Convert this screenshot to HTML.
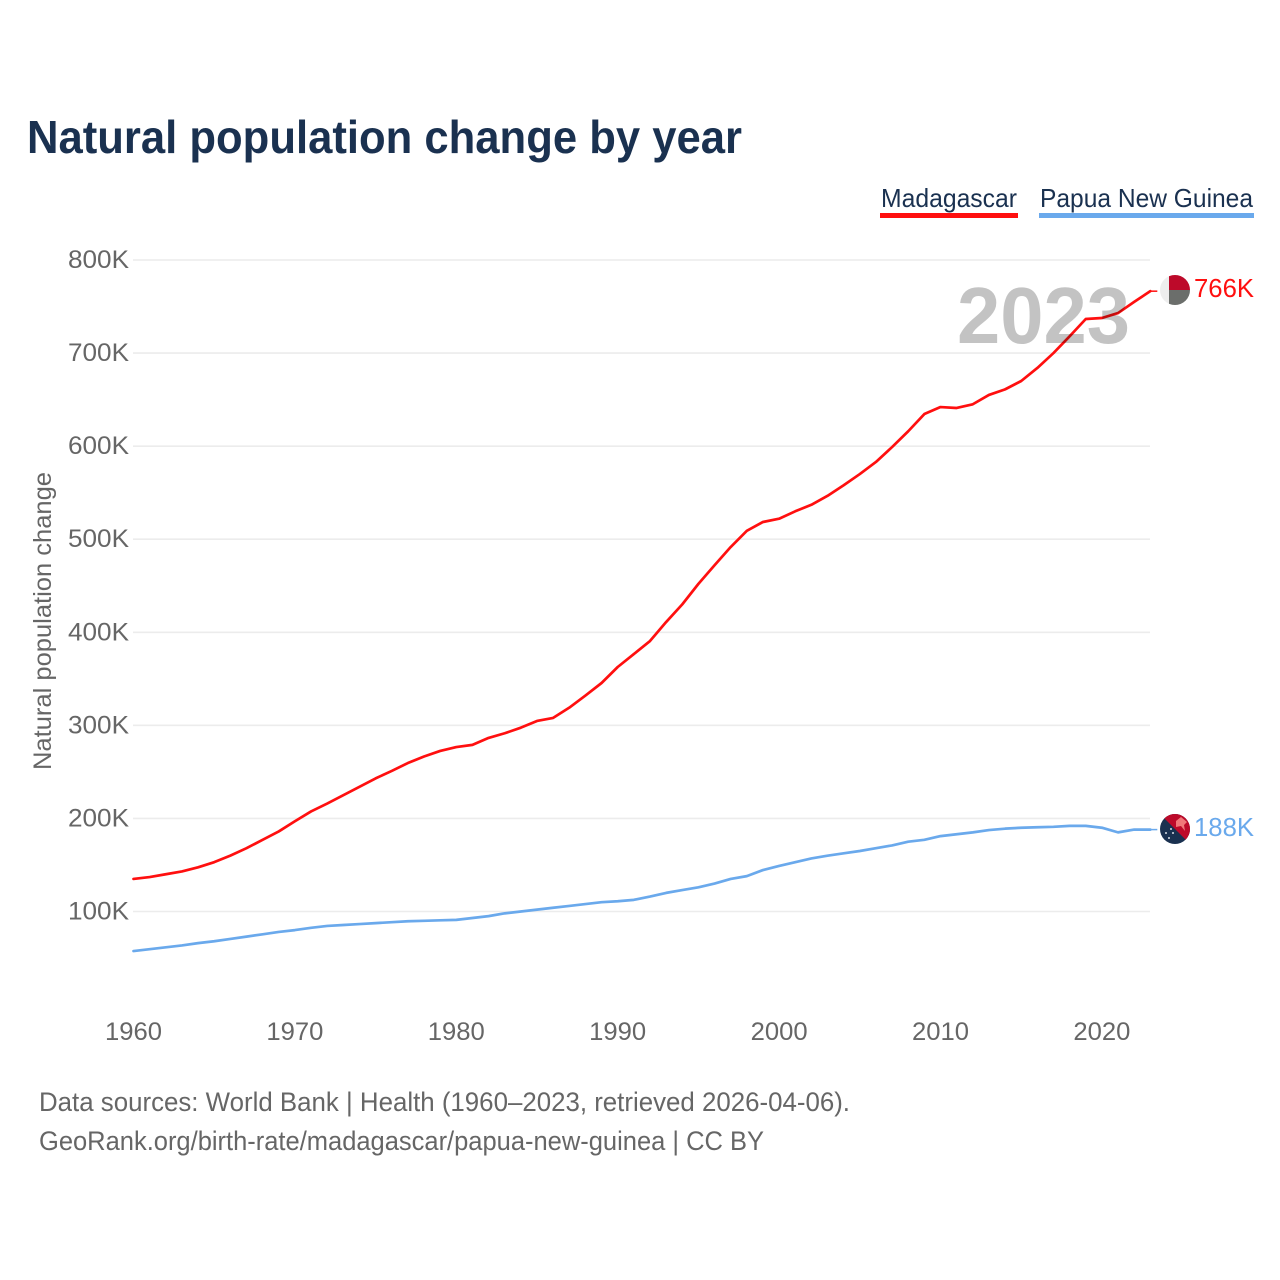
<!DOCTYPE html>
<html lang="en">
<head>
<meta charset="utf-8">
<title>Natural population change by year</title>
<style>
html,body{margin:0;padding:0;background:#fff;}
svg{display:block;font-family:"Liberation Sans",sans-serif;}
</style>
</head>
<body>
<svg id="chart" width="1280" height="1280" viewBox="0 0 1280 1280" xmlns="http://www.w3.org/2000/svg">
  <defs>
    <clipPath id="clip-mg"><circle cx="1175" cy="290" r="15"/></clipPath>
    <clipPath id="clip-pg"><circle cx="1175" cy="829" r="15"/></clipPath>
  </defs>
  <rect width="1280" height="1280" fill="#fff"/>
  <text x="27" y="153" font-size="46" font-weight="700" fill="#1a3150" textLength="715" lengthAdjust="spacingAndGlyphs">Natural population change by year</text>

  <g>
    <text x="881" y="207" font-size="26" fill="#1a3150" textLength="136" lengthAdjust="spacingAndGlyphs">Madagascar</text>
    <rect x="880" y="213" width="138" height="5" fill="#ff0f0f"/>
  </g>
  <g>
    <text x="1040" y="207" font-size="26" fill="#1a3150" textLength="213" lengthAdjust="spacingAndGlyphs">Papua New Guinea</text>
    <rect x="1039" y="213" width="215" height="5" fill="#6aa9ec"/>
  </g>

  <g id="grid"></g>
  <g id="yticks"></g>
  <g id="xticks"></g>
  <text transform="translate(51 621) rotate(-90)" text-anchor="middle" font-size="25" fill="#666" textLength="298" lengthAdjust="spacingAndGlyphs">Natural population change</text>
  <g id="series"></g>
  <text x="957" y="343" font-size="80" font-weight="700" fill="#000" fill-opacity="0.235" textLength="173" lengthAdjust="spacingAndGlyphs">2023</text>

  <g clip-path="url(#clip-mg)">
    <rect x="1160" y="275" width="30" height="30" fill="#eeeeee"/>
    <rect x="1169" y="275" width="21" height="15" fill="#bd0a2a"/>
    <rect x="1169" y="290" width="21" height="15" fill="#6b6e6b"/>
  </g>
  <text id="label-mg" x="1194" y="297" font-size="26" fill="#ff0f0f" textLength="60" lengthAdjust="spacingAndGlyphs"></text>

  <g clip-path="url(#clip-pg)">
    <rect x="1160" y="814" width="30" height="30" fill="#1a3150"/>
    <polygon points="1160,814 1190,814 1190,844" fill="#bd0a2a"/>
    <polygon points="1176,821 1181,817 1187,822 1184,825 1185,831 1181,826 1176,827" fill="#f0787a"/>
    <circle cx="1171" cy="829" r="1" fill="#d8dde4"/>
    <circle cx="1166" cy="833" r="1" fill="#d8dde4"/>
    <circle cx="1173" cy="833" r="1" fill="#d8dde4"/>
    <circle cx="1169" cy="838" r="1" fill="#d8dde4"/>
  </g>
  <text id="label-pg" x="1194" y="836" font-size="26" fill="#6aa9ec" textLength="60" lengthAdjust="spacingAndGlyphs"></text>

  <text x="39" y="1111" font-size="27" fill="#666" textLength="811" lengthAdjust="spacingAndGlyphs">Data sources: World Bank | Health (1960–2023, retrieved 2026-04-06).</text>
  <text x="39" y="1150" font-size="27" fill="#666" textLength="725" lengthAdjust="spacingAndGlyphs">GeoRank.org/birth-rate/madagascar/papua-new-guinea | CC BY</text>
</svg>
<script>
const years = [1960,1961,1962,1963,1964,1965,1966,1967,1968,1969,1970,1971,1972,1973,1974,1975,1976,1977,1978,1979,1980,1981,1982,1983,1984,1985,1986,1987,1988,1989,1990,1991,1992,1993,1994,1995,1996,1997,1998,1999,2000,2001,2002,2003,2004,2005,2006,2007,2008,2009,2010,2011,2012,2013,2014,2015,2016,2017,2018,2019,2020,2021,2022,2023];
const madagascar = [135,137,140,143,147.5,153,160,168,177,186,197,207.5,216,225,234,243,251,259.5,266.5,272.5,276.7,279,286.5,291.5,297.5,304.7,308,319,332,345.5,362.7,376.6,390.6,411,430,452,472,491.6,509,518.5,522,530,537,546.6,558,570,583,599,616,634.5,642,641,645,655,661,670,684,700,718,736.6,737.7,743,755,766.5];
const papuaNewGuinea = [57.5,59.5,61.5,63.5,66,68,70.5,73,75.5,78,80,82.5,84.5,85.5,86.5,87.5,88.5,89.5,90,90.5,91,93,95,98,100,102,104,106,108,110,111,112.5,116,120,123,126,130,135,138,144.5,149,153,157,160,162.5,165,168,171,175,177,181,183,185,187.5,189,190,190.5,191,192,192,190,185,188,188];
const yTickValues = [100,200,300,400,500,600,700,800];
const yTickLabels = ["100K","200K","300K","400K","500K","600K","700K","800K"];
const xTickYears = [1960,1970,1980,1990,2000,2010,2020];
const endLabelMadagascar = "766K";
const endLabelPapuaNewGuinea = "188K";

const NS = "http://www.w3.org/2000/svg";
function xScale(year){ return 133.5 + (year - 1960) * 16.14; }
function yScale(v){ return 260 + (800 - v) * 0.9307; }
function make(tag, attrs, parent){
  const el = document.createElementNS(NS, tag);
  for (const k in attrs) el.setAttribute(k, attrs[k]);
  parent.appendChild(el);
  return el;
}
const grid = document.getElementById("grid");
const yticks = document.getElementById("yticks");
const xticks = document.getElementById("xticks");
const series = document.getElementById("series");

yTickValues.forEach(function(v, i){
  const y = yScale(v);
  const line = make("line", {x1:133, x2:1150, y1:y, y2:y, stroke:"#ececec", "stroke-width":1.6}, grid);
  
  
  const t = make("text", {x:129, y:y+8, "text-anchor":"end", "font-size":25, fill:"#666", textLength:61, lengthAdjust:"spacingAndGlyphs"}, yticks);
  
  
  t.textContent = yTickLabels[i];
});
xTickYears.forEach(function(yr){
  const t = make("text", {x:xScale(yr), y:1040, "text-anchor":"middle", "font-size":25, fill:"#666", textLength:57, lengthAdjust:"spacingAndGlyphs"}, xticks);
  
  
  t.textContent = yr;
});
function drawSeries(values, color){
  const pts = values.map(function(v, i){ return xScale(years[i]).toFixed(2) + "," + yScale(v).toFixed(2); });
  const last = yScale(values[values.length - 1]);
  const endX = xScale(years[years.length - 1]);
  const connector = make("line", {x1:endX, x2:endX + 7, y1:last, y2:last, stroke:color, "stroke-width":1.5}, series);
  const line = make("polyline", {points:pts.join(" "), fill:"none", stroke:color, "stroke-width":2.7, "stroke-linejoin":"round", "stroke-linecap":"round"}, series);
  return {line:line, connector:connector};
}
const pngMarks = drawSeries(papuaNewGuinea, "#6aa9ec");




const mgMarks = drawSeries(madagascar, "#ff0f0f");




document.getElementById("label-mg").textContent = endLabelMadagascar;
document.getElementById("label-pg").textContent = endLabelPapuaNewGuinea;
</script>
</body>
</html>
